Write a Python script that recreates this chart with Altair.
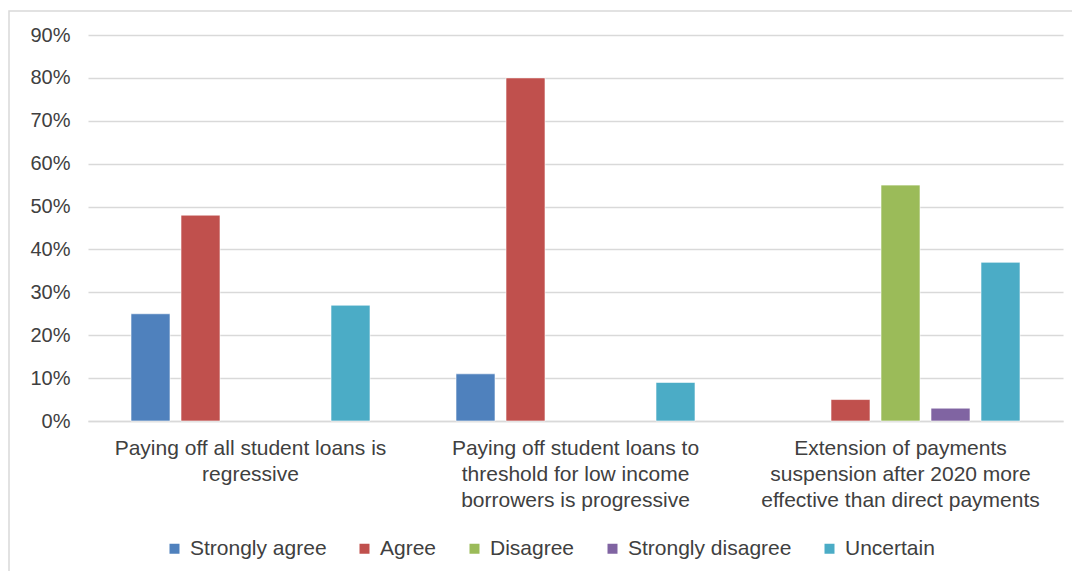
import altair as alt
import pandas as pd

categories = [
    "Paying off all student loans is|regressive",
    "Paying off student loans to|threshold for low income|borrowers is progressive",
    "Extension of payments|suspension after 2020 more|effective than direct payments",
]
series = ["Strongly agree", "Agree", "Disagree", "Strongly disagree", "Uncertain"]
colors = ["#4F81BD", "#C0504D", "#9BBB59", "#8064A2", "#4BACC6"]

strongly_agree = [0.25, 0.11, None]
agree = [0.48, 0.80, 0.05]
disagree = [None, None, 0.55]
strongly_disagree = [None, None, 0.03]
uncertain = [0.27, 0.09, 0.37]

y_ticks = [0, 0.1, 0.2, 0.3, 0.4, 0.5, 0.6, 0.7, 0.8, 0.9]

values_by_series = [strongly_agree, agree, disagree, strongly_disagree, uncertain]
rows = []
for s, vals in zip(series, values_by_series):
    for c, v in zip(categories, vals):
        if v is not None:
            rows.append({"category": c, "series": s, "value": v})
df = pd.DataFrame(rows)

FONT = "Liberation Sans"
TXT = "#404040"
GRID = "#D9D9D9"

bars = alt.Chart(df).mark_bar(stroke="white", strokeWidth=0.6).encode(
    x=alt.X(
        "category:N",
        sort=categories,
        scale=alt.Scale(domain=categories, paddingInner=0, paddingOuter=0),
        axis=alt.Axis(
            title=None,
            labelAngle=0,
            labelExpr="split(datum.label, '|')",
            labelFontSize=21,
            labelLineHeight=26,
            labelColor=TXT,
            labelFont=FONT,
            labelPadding=16,
            labelBaseline="top",
            ticks=False,
            domainColor=GRID,
            domainWidth=1.5,
            grid=False,
            labelLimit=400,
        ),
    ),
    xOffset=alt.XOffset(
        "series:N",
        sort=series,
        scale=alt.Scale(domain=series, paddingInner=0.22, paddingOuter=0.86),
    ),
    y=alt.Y(
        "value:Q",
        scale=alt.Scale(domain=[0, 0.9], nice=False),
        axis=alt.Axis(
            title=None,
            values=y_ticks,
            format=".0%",
            labelFontSize=20,
            labelColor=TXT,
            labelFont=FONT,
            labelPadding=18,
            ticks=False,
            domain=False,
            gridColor=GRID,
            gridWidth=1.5,
        ),
    ),
    color=alt.Color(
        "series:N",
        sort=series,
        scale=alt.Scale(domain=series, range=colors),
        legend=alt.Legend(
            title=None,
            orient="none",
            direction="horizontal",
            legendX=76,
            legendY=503,
            symbolType="square",
            symbolSize=100,
            symbolStrokeWidth=0,
            symbolOpacity=1,
            labelFontSize=21,
            labelFont=FONT,
            labelColor=TXT,
            labelOffset=5,
            columnPadding=27,
            labelLimit=300,
        ),
    ),
)

border = alt.Chart(pd.DataFrame({"a": [0]})).mark_rect(
    filled=False, fillOpacity=0, stroke=GRID, strokeWidth=1.5
).encode(
    x=alt.value(-79),
    x2=alt.value(1400),
    y=alt.value(-24),
    y2=alt.value(900),
)

chart = alt.layer(border, bars).properties(
    width=975,
    height=386,
    autosize=alt.AutoSizeParams(type="none"),
    padding={"left": 88, "top": 35, "right": 9, "bottom": 150},
    background="white",
).configure_view(stroke=None)

chart.save("out.html", embed_options={"renderer": "svg", "actions": False})
